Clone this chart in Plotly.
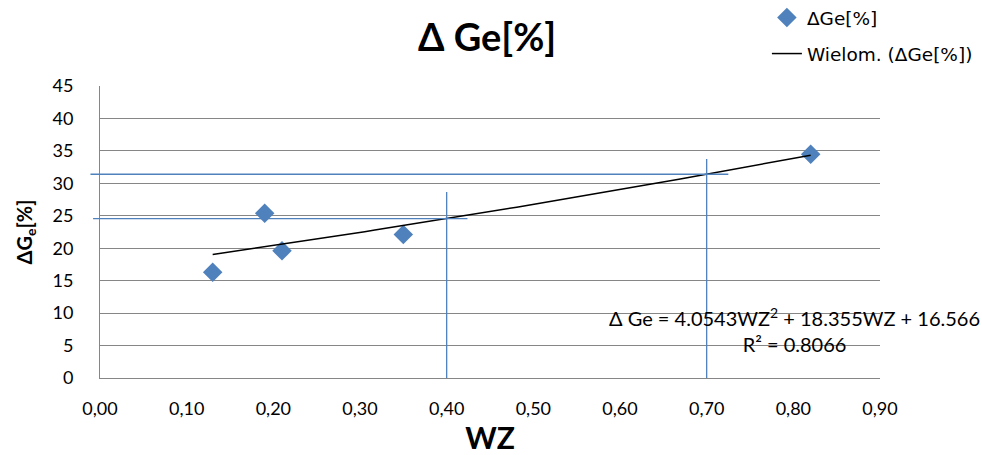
import numpy as np
import plotly.graph_objects as go

# Data
wz = [0.13, 0.19, 0.21, 0.35, 0.82]
delta_ge = [16.3, 25.4, 19.6, 22.1, 34.5]
# trendline coefficients as shown in chart (a*WZ^2 + b*WZ + c)
trend_coef = [4.0543, 18.355, 16.566]
r2 = 0.8066
# reference readings
ref_wz = [0.40, 0.70]
ref_ge_top = [28.65, 33.75]          # top ends of vertical helper lines
ref_h_start = [-0.008, -0.011]        # left ends of horizontal helper lines
ref_h_end = [0.424, 0.725]            # right ends of horizontal helper lines

x_ticks = [0.0, 0.1, 0.2, 0.3, 0.4, 0.5, 0.6, 0.7, 0.8, 0.9]
y_ticks = [0, 5, 10, 15, 20, 25, 30, 35, 40, 45]

BLUE = "#4F81BD"
GRID = "#868686"
FONT = "Lato"

poly = np.poly1d(trend_coef)
xt = np.linspace(min(wz), max(wz), 60)

fig = go.Figure()
fig.add_trace(go.Scatter(
    x=wz, y=delta_ge, mode="markers", name="ΔGe[%]", legendgroup="a",
    marker=dict(symbol="diamond", size=15, color=BLUE),
))
fig.add_trace(go.Scatter(
    x=xt, y=poly(xt), mode="lines", name="Wielom. (ΔGe[%])", legendgroup="b",
    line=dict(color="black", width=1.5),
))

XMAX = x_ticks[-1]
shapes = []
# white box behind the equation (hides gridlines)
shapes.append(dict(type="rect", xref="paper", yref="y", x0=(0.58) / XMAX, x1=1.2,
                   y0=3.0, y1=12.0, fillcolor="white", line=dict(width=0),
                   layer="between"))
for w, top, hs, he in zip(ref_wz, ref_ge_top, ref_h_start, ref_h_end):
    yv = float(poly(w))
    shapes.append(dict(type="line", xref="x", yref="y", x0=w, x1=w, y0=0, y1=top,
                       line=dict(color=BLUE, width=1.3), layer="above"))
    shapes.append(dict(type="line", xref="paper", yref="y", x0=hs / XMAX, x1=he / XMAX,
                       y0=yv, y1=yv, line=dict(color=BLUE, width=1.3), layer="above"))

eq_text = ("Δ Ge = %.4fWZ<sup>2</sup> + %.3fWZ + %.3f<br>R² = %.4f"
           % (trend_coef[0], trend_coef[1], trend_coef[2], r2))

fig.update_layout(
    width=982, height=455,
    margin=dict(l=100, r=102, t=86, b=77, autoexpand=False),
    paper_bgcolor="white", plot_bgcolor="white",
    separators=", ",
    font=dict(family=FONT, color="black", size=18),
    title=dict(text="<b>Δ Ge[%]</b>", x=0.496, xanchor="center", y=0.917, yanchor="middle",
               font=dict(family=FONT, size=38, color="black")),
    shapes=shapes,
    annotations=[dict(text=eq_text, xref="paper", yref="paper", x=0.891, y=0.165,
                      xanchor="center", yanchor="middle", showarrow=False, align="center",
                      font=dict(family=FONT, size=20, color="black"))],
    legend=dict(x=0.855, y=1.298, xanchor="left", yanchor="top", bgcolor="rgba(0,0,0,0)",
                font=dict(family="DejaVu Sans", size=18.5, color="black"),
                tracegroupgap=9),
    xaxis=dict(range=[0, XMAX], tickvals=x_ticks, tickformat=".2f", showgrid=False,
               showline=True, linecolor=GRID, linewidth=1, ticks="", zeroline=False,
               ticklabelstandoff=14,
               tickfont=dict(family=FONT, size=18),
               title=dict(text="<b>WZ</b>", font=dict(family=FONT, size=30), standoff=12)),
    yaxis=dict(range=[0, 45], tickvals=y_ticks, showgrid=True, gridcolor=GRID, gridwidth=1,
               showline=True, linecolor=GRID, linewidth=1, ticks="", zeroline=False,
               ticklabelstandoff=22,
               tickfont=dict(family=FONT, size=18),
               title=dict(text="<b>ΔG<sub>e</sub>[%]</b>", font=dict(family=FONT, size=20),
                          standoff=14)),
)

fig.write_html("out.html", config={"displayModeBar": False})

# remove default page margin so the figure fills the window exactly
with open("out.html", "r", encoding="utf-8") as f:
    html = f.read()
html = html.replace("<head>", "<head><style>html,body{margin:0;padding:0;}</style>", 1)
with open("out.html", "w", encoding="utf-8") as f:
    f.write(html)
